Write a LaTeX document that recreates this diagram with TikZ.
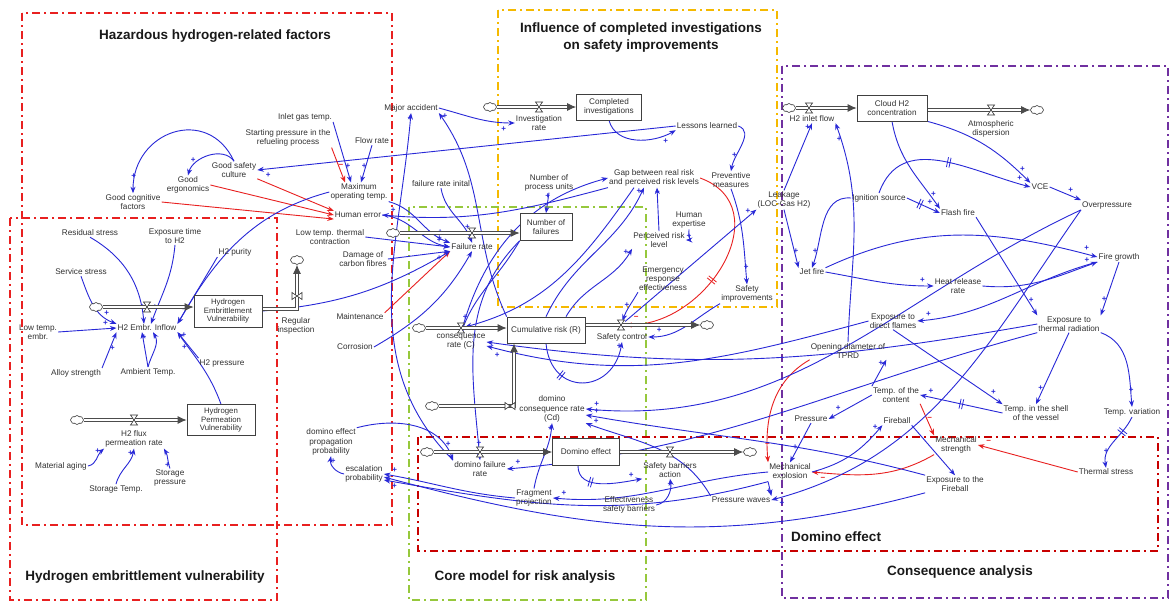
\documentclass[tikz,border=0pt]{standalone}
\usepackage{fontspec}
\setmainfont{Liberation Sans}
\usetikzlibrary{arrows.meta,shapes.symbols,decorations.markings,calc}
\definecolor{cblue}{RGB}{40,40,215}
\definecolor{cred}{RGB}{232,32,32}
\definecolor{dred}{RGB}{200,0,0}
\definecolor{cyel}{RGB}{245,185,0}
\definecolor{cgrn}{RGB}{150,200,60}
\definecolor{cpur}{RGB}{112,48,160}
\definecolor{txt}{RGB}{50,50,50}
\pgfdeclarelayer{frl}
\pgfdeclarelayer{bgl}
\pgfsetlayers{frl,bgl,main}
\tikzset{
  valvepic/.pic={\draw[-,fill=white,draw=black!80,line width=.6pt] (-3.5,5)--(3.5,5)--(-3.5,-5)--(3.5,-5)--cycle;},
  lab/.style={font=\fontsize{8.2}{9.2}\selectfont, text=txt, align=center, inner sep=1pt},
  ttl/.style={font=\fontsize{13.5}{17}\selectfont\bfseries, text=black!90, align=center},
  stock/.style={draw=black!75, line width=.7pt, fill=white, font=\fontsize{8.2}{9.2}\selectfont, text=txt, align=center, minimum width=#1, minimum height=26pt, inner sep=1pt},
  cld/.style={cloud, cloud puffs=8, cloud puff arc=110, aspect=1.5, draw=black!80, line width=.6pt, fill=white, inner sep=0pt, minimum width=13pt, minimum height=9pt},
  vnode/.style={inner sep=0pt, minimum size=8pt},
  pipe/.style={draw=black!70, double=white, double distance=1.8pt, line width=.9pt, -{Latex[length=9pt,width=8pt]}},
  frm/.style={line width=2pt, dash pattern=on 8pt off 4pt on 2pt off 4pt},
  ar/.style={draw=cblue, line width=.9pt, -{Stealth[length=6.5pt,width=5pt]}},
  rar/.style={draw=cred, line width=.9pt, -{Stealth[length=6.5pt,width=5pt]}},
  pl/.style={postaction={decorate,decoration={markings,mark=at position -11pt with {\node[font=\fontsize{8}{8}\selectfont\bfseries, text=cblue, inner sep=0pt, yshift=#1]{+};}}}},
  pl/.default=6pt,
  mn/.style={postaction={decorate,decoration={markings,mark=at position -11pt with {\node[font=\fontsize{8}{8}\selectfont\bfseries, text=cred, inner sep=0pt, yshift=#1]{−};}}}},
  mn/.default=6pt,
  dlm/.style={postaction={decorate,decoration={markings,mark=at position #1 with {\draw[-,line width=.8pt,solid] (-1.3,-5)--(-1.3,5) (1.3,-5)--(1.3,5);}}}}
}
\begin{document}
\begin{tikzpicture}[x=1pt,y=1pt]
\useasboundingbox (0,0) rectangle (1171,-605);
\begin{pgfonlayer}{frl}
\fill[white] (0,0) rectangle (1171,-605);
\draw[frm, draw=cred] (22,-13) rectangle (392,-525);
\draw[frm, draw=cred] (10,-218) rectangle (277,-600);
\draw[frm, draw=cyel] (498,-10) rectangle (777,-307);
\draw[frm, draw=cgrn] (409,-207) rectangle (646,-600);
\draw[frm, draw=cpur] (782,-66) rectangle (1168,-598);
\draw[frm, draw=dred] (418,-437) rectangle (1158,-551);
\end{pgfonlayer}

% titles
\node[ttl] (t1) at (215,-36) {Hazardous hydrogen-related factors};
\node[ttl] (t2) at (641,-38) {Influence of completed investigations\\on safety improvements};
\node[ttl] (t3) at (145,-577) {Hydrogen embrittlement vulnerability};
\node[ttl] (t4) at (525,-577) {Core model for risk analysis};
\node[ttl] (t5) at (836,-537) {Domino effect};
\node[ttl] (t6) at (960,-572) {Consequence analysis};

% stocks
\node[stock=65pt] (ci) at (609,-107) {Completed\\investigations};
\node[stock=70pt] (ch2) at (892,-108) {Cloud H2\\concentration};
\node[stock=52pt, minimum height=27pt] (nfail) at (546,-227) {Number of\\failures};
\node[stock=78pt] (cumr) at (546,-330) {Cumulative risk (R)};
\node[stock=67pt, minimum height=27pt] (domeff) at (586,-452) {Domino effect};
\node[stock=68pt, minimum height=32pt, font=\fontsize{7.8}{8.6}\selectfont] (hev) at (228,-311) {Hydrogen\\Embrittlement\\Vulnerability};
\node[stock=68pt, minimum height=31pt, font=\fontsize{7.8}{8.6}\selectfont] (hpv) at (221,-420) {Hydrogen\\Permeation\\Vulnerability};

% clouds
\node[cld] (cl1) at (490,-107) {};
\node[cld] (cl2) at (789,-108) {};
\node[cld] (cl3) at (1037,-110) {};
\node[cld] (cl4) at (393,-233) {};
\node[cld] (cl5) at (419,-328) {};
\node[cld] (cl6) at (707,-325) {};
\node[cld] (cl7) at (432,-406) {};
\node[cld] (cl8) at (427,-452) {};
\node[cld] (cl9) at (750,-452) {};
\node[cld] (cl10) at (96,-307) {};
\node[cld] (cl11) at (77,-420) {};
\node[cld] (cl12) at (297,-260) {};
\coordinate (dcorner) at (514,-406);
\coordinate (rcorner) at (297,-309);

% valves (anchors)
\node[vnode] (v1) at (539,-107) {};
\node[vnode] (v2) at (809,-108) {};
\node[vnode] (v3) at (991,-110) {};
\node[vnode] (v4) at (472,-233) {};
\node[vnode] (v5) at (461,-328) {};
\node[vnode] (v6) at (621,-325) {};
\node[vnode] (v7) at (510,-406) {};
\node[vnode] (v8) at (480,-452) {};
\node[vnode] (v9) at (670,-452) {};
\node[vnode] (v10) at (147,-307) {};
\node[vnode] (v11) at (134,-420) {};
\node[vnode] (v12) at (297,-296) {};

% flow labels
\node[lab] (irl) at (539,-123) {Investigation\\rate};
\node[lab] (h2il) at (812,-119) {H2 inlet flow};
\node[lab] (atml) at (991,-129) {Atmospheric\\dispersion};
\node[lab] (frl) at (472,-247) {Failure rate};
\node[lab] (consl) at (461,-342) {consequence\\rate (C)};
\node[lab] (sctl) at (622,-337) {Safety control};
\node[lab] (dcrl) at (552,-409) {domino\\consequence rate\\(Cd)};
\node[lab] (dfrl) at (480,-469) {domino failure\\rate};
\node[lab] (sbal) at (670,-470) {Safety barriers\\action};
\node[lab] (h2el) at (147,-328) {H2 Embr. Inflow};
\node[lab] (h2fl) at (134,-439) {H2 flux\\permeation rate};
\node[lab] (rinl) at (296,-326) {Regular\\inspection};

% variables
\node[lab] (inlet) at (305,-117) {Inlet gas temp.};
\node[lab] (startp) at (288,-138) {Starting pressure in the\\refueling process};
\node[lab] (flow) at (372,-141) {Flow rate};
\node[lab] (major) at (411,-108) {Major accident};
\node[lab] (maxop) at (359,-192) {Maximum\\operating temp.};
\node[lab] (gsc) at (234,-170) {Good safety\\culture};
\node[lab] (gerg) at (188,-185) {Good\\ergonomics};
\node[lab] (gcog) at (133,-202) {Good cognitive\\factors};
\node[lab] (herr) at (358,-215) {Human error};
\node[lab] (fri) at (441,-184) {failure rate inital};
\node[lab] (lowtc) at (330,-237) {Low temp. thermal\\contraction};
\node[lab] (dmg) at (363,-259) {Damage of\\carbon fibres};
\node[lab] (maint) at (360,-317) {Maintenance};
\node[lab] (corr) at (355,-347) {Corrosion};

\node[lab] (resid) at (90,-233) {Residual stress};
\node[lab] (exptime) at (175,-236) {Exposure time\\to H2};
\node[lab] (purity) at (235,-252) {H2 purity};
\node[lab] (servs) at (81,-272) {Service stress};
\node[lab] (lowte) at (38,-332) {Low temp.\\embr.};
\node[lab] (alloy) at (76,-373) {Alloy strength};
\node[lab] (ambt) at (148,-372) {Ambient Temp.};
\node[lab] (h2p) at (222,-363) {H2 pressure};
\node[lab] (mage) at (61,-466) {Material aging};
\node[lab] (stemp) at (116,-489) {Storage Temp.};
\node[lab] (spres) at (170,-478) {Storage\\pressure};

\node[lab] (lessons) at (707,-126) {Lessons learned};
\node[lab] (prev) at (731,-180) {Preventive\\measures};
\node[lab] (gap) at (654,-178) {Gap between real risk\\and perceived risk levels};
\node[lab] (nproc) at (549,-183) {Number of\\process units};
\node[lab] (hexp) at (689,-220) {Human\\expertise};
\node[lab] (prl) at (659,-240) {Perceived risk\\level};
\node[lab] (ere) at (663,-279) {Emergency\\response\\effectiveness};
\node[lab] (safimp) at (747,-294) {Safety\\improvements};
\node[lab] (leak) at (784,-200) {Leakage\\(LOC-Gas H2)};

\node[lab] (ign) at (879,-198) {Ignition source};
\node[lab] (flash) at (958,-213) {Flash fire};
\node[lab] (vce) at (1040,-187) {VCE};
\node[lab] (overp) at (1107,-205) {Overpressure};
\node[lab] (jet) at (812,-272) {Jet fire};
\node[lab] (fireg) at (1119,-257) {Fire growth};
\node[lab] (heat) at (958,-286) {Heat release\\rate};
\node[lab] (edf) at (893,-321) {Exposure to\\direct flames};
\node[lab] (etr) at (1069,-324) {Exposure to\\thermal radiation};
\node[lab] (tprd) at (848,-351) {Opening diameter of\\TPRD};
\node[lab] (tcont) at (896,-395) {Temp. of the\\content};
\node[lab] (press) at (811,-419) {Pressure};
\node[lab] (fireball) at (897,-421) {Fireball};
\node[lab] (tshell) at (1036,-413) {Temp. in the shell\\of the vessel};
\node[lab] (tvar) at (1132,-412) {Temp. variation};
\node[lab] (mstr) at (956,-445) {Mechanical\\strength};
\node[lab] (tstress) at (1106,-472) {Thermal stress};
\node[lab] (efb) at (955,-484) {Exposure to the\\Fireball};
\node[lab] (mexp) at (790,-472) {Mechanical\\explosion};
\node[lab] (pwaves) at (741,-500) {Pressure waves};
\node[lab] (esb) at (629,-505) {Effectiveness\\safety barriers};
\node[lab] (frag) at (534,-498) {Fragment\\projection};
\node[lab] (dprop) at (331,-442) {domino effect\\propagation\\probability};
\node[lab] (escal) at (364,-474) {escalation\\probability};

\begin{pgfonlayer}{bgl}
% hazardous factors
\draw[ar,pl] (gsc.north) to[out=125,in=75] (gerg.north);
\draw[ar,pl] (gsc.north) to[out=115,in=90,looseness=1.5] (gcog.north);
\draw[ar,pl=-6pt] (lessons.west) -- (gsc.east);
\draw[rar] (gsc.south east) -- (herr.north west);
\draw[rar] (gerg.east) -- (herr.west);
\draw[rar] (gcog.east) -- (herr.south west);
\draw[ar,pl] (inlet.south east) -- ([xshift=-8pt]maxop.north);
\draw[rar,mn] (startp.south east) -- ([xshift=-14pt]maxop.north);
\draw[ar,pl] (flow.south) -- ([xshift=2pt]maxop.north);
\draw[ar,pl] (maxop.south east) to[out=-15,in=160] (frl.north west);
\draw[ar,pl] (herr.east) to[out=-5,in=170] (frl.west);
\draw[ar,pl] (lowtc.east) -- (frl.west);
\draw[ar,pl=-6pt] (dmg.east) -- (frl.south west);
\draw[rar] (maint.north east) -- (frl.south west);
\draw[ar] (corr.east) to[out=30,in=-120] (frl.south);
\draw[ar] (hev.east) to[out=5,in=-150] (frl.south west);
\draw[ar,pl] (fri.south) to[out=-80,in=110] (frl.north);
\draw[ar,pl] (nproc.south) -- (nfail.north);
\draw[ar,pl] (gap.south west) to[out=-165,in=-5] (herr.east);

% core model
\draw[ar,pl=-6pt] (major.east) to[out=-15,in=180] (irl.west);
\draw[ar,pl] (cumr.north west) to[out=115,in=-55] (major.south east);
\draw[ar,pl] (dfrl.north west) to[out=135,in=-95] (major.south);
\draw[ar,pl] (nfail.south west) to[out=-120,in=70] (consl.north);
\draw[ar,pl] (nfail.south west) to[out=-135,in=95] (dfrl.north);
\draw[ar,pl] (cumr.north) to[out=65,in=-115] ([xshift=-10pt]gap.south);
\draw[ar,pl] ([xshift=20pt]cumr.north) to[out=60,in=-120] (prl.south west);
\draw[ar,pl] (prl.north) -- ([xshift=3pt]gap.south);
\draw[ar,pl=-6pt] (hexp.south) to[out=-100,in=0] (prl.east);
\draw[ar,pl] (ere.south west) to[out=-120,in=70] (v6);
\draw[rar,mn,dlm=0.55] (gap.east) to[out=-20,in=0,looseness=1.3] (v6);
\draw[ar,pl] (safimp.south west) to[out=-150,in=0] (sctl.east);
\draw[ar,pl] (prev.south) to[out=-70,in=95] (safimp.north);
\draw[ar,pl] (lessons.east) to[out=-20,in=80] (prev.north);
\draw[ar,pl=-6pt] (ci.south) to[out=-75,in=-150] (lessons.south west);
\draw[ar,pl] (v6) -- (leak.south west);
\draw[ar] ([xshift=-20pt]gap.south) to[out=-125,in=15] (v5);
\draw[ar,pl,dlm=0.3] (cumr.south) to[out=-85,in=-100,looseness=1.8] (sctl.south);
\draw[ar] (consl.north) to[out=75,in=195] (gap.west);
\draw[ar,pl] (frag.north) to[out=80,in=-95] (dcrl.south);
\draw[ar,pl] (pwaves.north west) to[out=120,in=-20] (dcrl.south east);
\draw[ar,pl] (escal.west) to[out=170,in=-100] (dprop.south);
\draw[ar,pl] (dprop.north east) to[out=15,in=110] (dfrl.north west);
\draw[ar,pl] (frag.west) to[out=175,in=-10] (escal.east);
\draw[ar,pl=-6pt] (efb.south west) to[out=-165,in=-15] ([yshift=-3pt]escal.east);
\draw[ar] (mexp.south west) to[out=-165,in=-10] ([yshift=-6pt]escal.east);
\draw[ar,pl] (mexp.west) to[out=185,in=-5] (frag.east);
\draw[ar,pl,dlm=0.3] ($(domeff.south)+(-8,0)$) to[out=-90,in=190] (sbal.south west);
\draw[ar,pl] (esb.east) to[out=10,in=-80] (sbal.south);

% consequence analysis
\draw[ar,pl=-6pt] (mexp.south west) -- (pwaves.north east);
\draw[ar,pl] (press.south) -- (mexp.north);
\draw[rar,mn] (tprd.south west) to[out=-150,in=95] (mexp.north west);
\draw[rar,mn=-6pt] (mstr.south west) to[out=-150,in=-5] (mexp.east);
\draw[rar,mn] (tstress.west) -- (mstr.east);
\draw[rar,mn] (tcont.south east) -- (mstr.north west);
\draw[ar,pl] (tcont.west) -- (press.east);
\draw[ar,pl] (tcont.north west) -- (tprd.south east);
\draw[ar,pl,dlm=0.5] (tshell.west) -- (tcont.east);
\draw[ar,pl] (edf.south) -- (tshell.north west);
\draw[ar,pl] (etr.south) -- (tshell.north);
\draw[ar,pl] (etr.south east) to[out=-20,in=95] (tvar.north);
\draw[ar,pl,dlm=0.3] (tvar.south) to[out=-115,in=100] (tstress.north);
\draw[ar,pl] (mexp.east) to[out=15,in=-130] (fireball.south west);
\draw[ar] (fireball.south east) -- (efb.north);
\draw[ar,pl] (fireg.south) -- (etr.north east);
\draw[ar,pl] (flash.south east) -- (etr.north west);
\draw[ar,pl] (fireg.south west) to[out=-165,in=5] (edf.east);
\draw[ar,pl] (heat.east) to[out=-5,in=-160] (fireg.south west);
\draw[ar,pl] (jet.east) to[out=-10,in=180] (heat.west);
\draw[ar,pl] (jet.north east) to[out=25,in=165] (fireg.west);
\draw[ar,pl] (vce.east) -- (overp.north west);
\draw[ar,pl] (ch2.south east) to[out=-15,in=135] (vce.north west);
\draw[ar,pl] (ch2.south) to[out=-80,in=125] (flash.north west);
\draw[ar,pl,dlm=0.4] (ign.east) -- (flash.west);
\draw[ar,pl,dlm=0.5] (ign.north) to[out=70,in=165,looseness=1.1] (vce.west);
\draw[ar,pl] (ign.west) to[out=175,in=70] (jet.north);
\draw[ar,pl] (leak.south) -- (jet.north west);
\draw[ar,pl] (leak.north) -- (h2il.south);
\draw[ar,pl=-6pt] (tprd.north) to[out=88,in=-70] (h2il.south east);
\draw[ar,pl=-6pt] (overp.south west) to[out=-125,in=15] (pwaves.east);
\draw[ar,pl] (overp.south west) to[out=-155,in=-5] (dcrl.east);
\draw[ar] (etr.west) to[out=-170,in=-8] (consl.east);
\draw[ar,pl=-6pt] (edf.west) to[out=195,in=-15] ([yshift=-4pt]consl.east);
\draw[ar,pl] (etr.south west) to[out=-165,in=5] (dfrl.east);
\draw[ar,pl] (efb.north west) to[out=165,in=-10] ([yshift=-6pt]dcrl.east);

% hydrogen embrittlement
\draw[ar,pl] (resid.south) to[out=-30,in=95] ([xshift=-3pt]h2el.north);
\draw[ar,pl] (exptime.south) to[out=-95,in=70] ([xshift=4pt]h2el.north);
\draw[ar,pl] (purity.south west) -- (h2el.north east);
\draw[ar,pl] (servs.south) to[out=-70,in=160] (h2el.north west);
\draw[ar,pl] (lowte.east) -- (h2el.west);
\draw[ar,pl=-6pt] (alloy.north east) -- (h2el.south west);
\draw[ar,pl] (ambt.north) -- ([xshift=-5pt]h2el.south);
\draw[ar] (ambt.north) to[out=75,in=-60] ([xshift=6pt]h2el.south);
\draw[ar,pl=-6pt] (h2p.north west) -- (h2el.south east);
\draw[ar,pl] (hpv.north) to[out=110,in=-55] (h2el.south east);
\draw[ar] (maxop.west) to[out=195,in=60] (h2el.north east);
\draw[ar,pl] (mage.east) to[out=10,in=-140] (h2fl.south west);
\draw[ar,pl] (stemp.north) to[out=75,in=-100] (h2fl.south);
\draw[ar,pl=-6pt] (spres.north) to[out=110,in=-60] (h2fl.south east);

% pipes
\draw[pipe] (cl1) -- (ci.west);
\draw[pipe] (cl2) -- (ch2.west);
\draw[pipe] (ch2.east |- cl3) -- (cl3);
\draw[pipe] (cl4) -- (cl4 -| nfail.west);
\draw[pipe] (cl5) -- (cl5 -| cumr.west);
\draw[pipe] (cumr.east |- cl6) -- (cl6);
\draw[pipe] (cl7) -- (dcorner) -- (dcorner |- cumr.south);
\draw[pipe] (cl8) -- (domeff.west);
\draw[pipe] (domeff.east) -- (cl9);
\draw[pipe] (cl10) -- (cl10 -| hev.west);
\draw[pipe] (cl11) -- (hpv.west);
\draw[pipe] (hev.east |- rcorner) -- (rcorner) -- (cl12);
\end{pgfonlayer}

% valve symbols
\foreach \v in {v1,v2,v3,v4,v5,v6,v8,v9,v10,v11} {\pic at (\v) {valvepic};}
\pic[rotate=90] at (v7) {valvepic};
\pic[rotate=90] at (v12) {valvepic};
\end{tikzpicture}
\end{document}
